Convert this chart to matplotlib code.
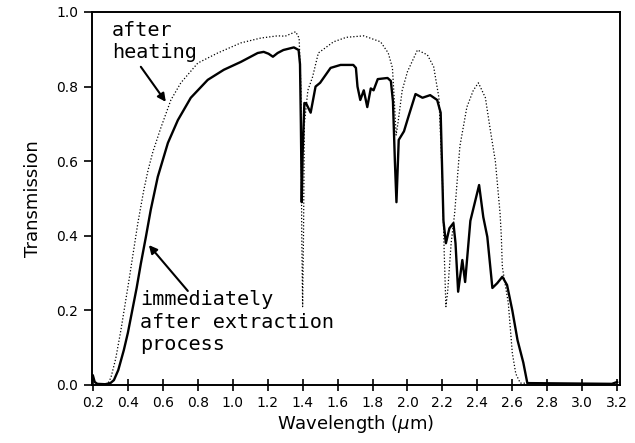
import matplotlib
matplotlib.use("Agg")
import matplotlib.pyplot as plt

# transmission spectra
# immediately after extraction process (solid)
wl_extract = [0.200, 0.203, 0.210, 0.225, 0.270, 0.300, 0.320, 0.345, 0.377,
              0.400, 0.425, 0.450, 0.474, 0.503, 0.531, 0.571, 0.629, 0.686,
              0.760, 0.857, 0.949, 1.046, 1.143, 1.177, 1.205, 1.230, 1.257,
              1.290, 1.350, 1.377, 1.385, 1.390, 1.395, 1.400, 1.410, 1.420,
              1.446, 1.474, 1.500, 1.560, 1.617, 1.690, 1.705, 1.714, 1.730,
              1.750, 1.770, 1.790, 1.806, 1.830, 1.886, 1.905, 1.917, 1.928,
              1.937, 1.950, 1.980, 2.006, 2.046, 2.086, 2.130, 2.170, 2.190,
              2.206, 2.220, 2.240, 2.263, 2.275, 2.290, 2.314, 2.330, 2.360,
              2.410, 2.434, 2.457, 2.486, 2.514, 2.543, 2.570, 2.600, 2.630,
              2.663, 2.686, 3.170, 3.200]
t_extract = [0.025, 0.020, 0.008, 0.003, 0.002, 0.005, 0.013, 0.040, 0.094,
             0.140, 0.200, 0.260, 0.325, 0.397, 0.470, 0.558, 0.649, 0.710,
             0.770, 0.818, 0.845, 0.866, 0.890, 0.893, 0.888, 0.880, 0.890,
             0.898, 0.905, 0.898, 0.860, 0.700, 0.490, 0.620, 0.756, 0.755,
             0.730, 0.800, 0.810, 0.850, 0.858, 0.858, 0.850, 0.800, 0.764,
             0.790, 0.745, 0.795, 0.790, 0.820, 0.823, 0.815, 0.760, 0.600,
             0.490, 0.657, 0.680, 0.720, 0.780, 0.770, 0.777, 0.764, 0.730,
             0.440, 0.380, 0.420, 0.434, 0.380, 0.250, 0.335, 0.276, 0.440,
             0.536, 0.450, 0.397, 0.260, 0.273, 0.290, 0.268, 0.200, 0.120,
             0.060, 0.005, 0.003, 0.008]

# after heating (dotted)
wl_heated = [0.200, 0.250, 0.285, 0.303, 0.330, 0.360, 0.406, 0.457, 0.490,
             0.515, 0.543, 0.589, 0.646, 0.703, 0.800, 0.914, 1.046, 1.160,
             1.257, 1.300, 1.360, 1.380, 1.390, 1.395, 1.400, 1.405, 1.410,
             1.430, 1.457, 1.490, 1.577, 1.650, 1.750, 1.846, 1.890, 1.914,
             1.925, 1.935, 1.945, 1.970, 2.000, 2.057, 2.114, 2.150, 2.180,
             2.200, 2.210, 2.220, 2.230, 2.250, 2.270, 2.300, 2.340, 2.377,
             2.406, 2.446, 2.474, 2.503, 2.530, 2.537, 2.543, 2.577, 2.600,
             2.620, 2.646, 3.200]
t_heated = [0.000, 0.000, 0.003, 0.020, 0.070, 0.147, 0.280, 0.434, 0.520,
            0.575, 0.625, 0.690, 0.764, 0.810, 0.863, 0.890, 0.917, 0.930,
            0.936, 0.935, 0.947, 0.930, 0.800, 0.400, 0.210, 0.400, 0.700,
            0.790, 0.826, 0.890, 0.920, 0.932, 0.936, 0.920, 0.890, 0.850,
            0.760, 0.670, 0.700, 0.790, 0.840, 0.898, 0.885, 0.853, 0.770,
            0.550, 0.360, 0.210, 0.250, 0.380, 0.460, 0.640, 0.745, 0.790,
            0.810, 0.770, 0.684, 0.600, 0.460, 0.400, 0.316, 0.220, 0.086,
            0.030, 0.005, 0.000]

x_ticks = [0.2, 0.4, 0.6, 0.8, 1.0, 1.2, 1.4, 1.6, 1.8, 2.0, 2.2, 2.4, 2.6,
           2.8, 3.0, 3.2]
y_ticks = [0.0, 0.2, 0.4, 0.6, 0.8, 1.0]

fig = plt.figure(figsize=(6.35, 4.43), dpi=100)
ax = fig.add_axes([0.145, 0.131, 0.831, 0.842])

ax.plot(wl_heated, t_heated, color="black", lw=0.9, ls=(0, (1, 1.6)))
ax.plot(wl_extract, t_extract, color="black", lw=1.7)

ax.set_xlim(0.195, 3.215)
ax.set_ylim(0.0, 1.0)
ax.set_xticks(x_ticks)
ax.set_yticks(y_ticks)
ax.set_xticklabels(["%.1f" % v for v in x_ticks])
ax.set_yticklabels(["%.1f" % v for v in y_ticks])
ax.tick_params(axis="x", direction="inout", length=8, width=1.2,
               labelsize=10, pad=4)
ax.tick_params(axis="y", direction="out", length=6, width=1.2,
               labelsize=10, pad=4)
for s in ax.spines.values():
    s.set_linewidth(1.4)

ax.set_xlabel(r"Wavelength ($\mu$m)", fontsize=13, labelpad=2)
ax.set_ylabel("Transmission", fontsize=13, labelpad=10)

# annotations
mono = "DejaVu Sans Mono"
ax.text(0.31, 0.975, "after\nheating", family=mono, fontsize=14.5,
        va="top", ha="left", linespacing=1.15)
ax.annotate("", xy=(0.617, 0.759), xytext=(0.474, 0.853),
            arrowprops=dict(arrowstyle="-|>", color="black", lw=1.5,
                            mutation_scale=12, shrinkA=0, shrinkB=0))
ax.text(0.47, 0.255, "immediately\nafter extraction\nprocess", family=mono,
        fontsize=14.5, va="top", ha="left", linespacing=1.25)
ax.annotate("", xy=(0.52, 0.375), xytext=(0.743, 0.252),
            arrowprops=dict(arrowstyle="-|>", color="black", lw=1.5,
                            mutation_scale=12, shrinkA=0, shrinkB=0))

fig.savefig("out.png", dpi=100)
